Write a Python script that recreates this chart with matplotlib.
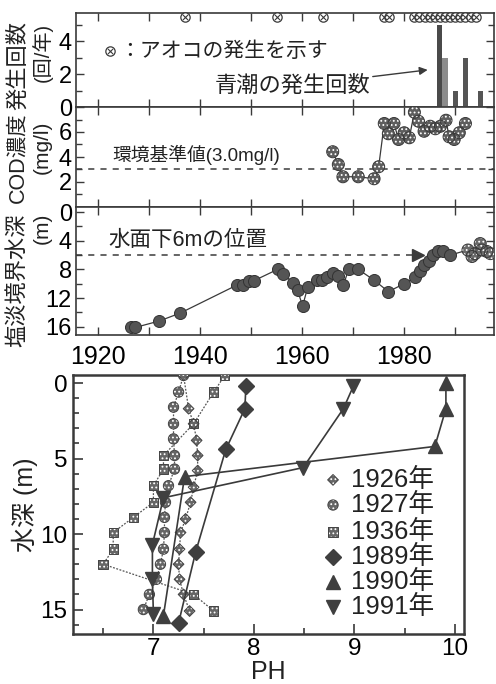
import matplotlib
matplotlib.use('Agg')
import matplotlib.pyplot as plt
from matplotlib.ticker import MultipleLocator, FuncFormatter

plt.rcParams['font.family'] = ['Liberation Sans', 'Noto Sans CJK JP']
plt.rcParams['hatch.color'] = 'white'
plt.rcParams['hatch.linewidth'] = 0.8

## アオコの発生年
aoko_years = [1937, 1955, 1964, 1976, 1977, 1982, 1983, 1984, 1985, 1986, 1987,
              1988, 1989, 1990, 1991, 1992, 1993, 1994]
aoko_level = 5.45

## 青潮の発生回数
aoshio_years = [1987, 1988, 1990, 1992, 1995]
aoshio_counts = [5, 3, 1, 3, 1]

## COD濃度 (mg/l)
cod_years = [1966.0, 1967.1, 1968.0, 1971.0, 1974.1, 1975.0, 1976.1, 1976.9, 1978.0,
             1978.9, 1980.0, 1981.0, 1982.0, 1982.8, 1983.9, 1985.1, 1986.1, 1987.1,
             1988.2, 1988.8, 1989.8, 1990.8, 1992.0]
cod_vals = [4.42, 3.4, 2.42, 2.42, 2.26, 3.22, 6.68, 5.86, 6.68, 5.4, 5.94, 5.54,
            7.58, 6.86, 6.06, 6.46, 6.26, 6.46, 6.94, 5.62, 5.4, 5.94, 6.68]
cod_standard = 3.0

## 塩淡境界水深 (m)
bd_years = [1926.4, 1927.3, 1932.0, 1936.1, 1947.2, 1948.4, 1949.5, 1950.5, 1955.2,
            1956.2, 1958.3, 1959.1, 1960.1, 1961.1, 1962.9, 1963.9, 1964.8, 1966.1,
            1967.1, 1968.1, 1969.1, 1971.0, 1974.1, 1976.9, 1980.0, 1982.2, 1983.1,
            1983.8, 1984.8, 1985.7, 1986.7, 1987.7, 1989.0]
bd_depth = [16.1, 16.1, 15.2, 14.1, 10.2, 10.2, 9.6, 9.6, 8.0, 8.6, 9.9, 10.9, 13.1,
            10.5, 9.5, 9.5, 9.0, 8.5, 8.9, 10.2, 8.0, 8.0, 9.5, 11.1, 10.0, 9.1, 8.2,
            7.4, 6.9, 6.0, 5.5, 5.5, 6.0]
bd_recent_years = [1992.5, 1993.3, 1993.9, 1994.9, 1995.2, 1996.2, 1996.9]
bd_recent_depth = [5.3, 6.2, 5.8, 4.4, 5.3, 5.5, 5.8]
ref_depth = 6.0
ref_arrow_year = 1982.8

## 水深ごとのPH
ph1926_depth = [-0.5, 1.7, 2.7, 3.8, 4.8, 5.8, 6.9, 7.9, 9.0, 9.9, 11.0, 12.0, 13.0, 14.0, 15.1]
ph1926 = [7.30, 7.35, 7.40, 7.43, 7.44, 7.44, 7.40, 7.37, 7.32, 7.27, 7.26, 7.25, 7.26, 7.30, 7.36]
ph1927_depth = [-0.5, 0.6, 1.6, 2.7, 3.7, 4.8, 5.7, 6.8, 7.9, 8.9, 9.9, 11.0, 12.0, 13.0, 14.0, 15.0]
ph1927 = [7.30, 7.25, 7.20, 7.20, 7.20, 7.21, 7.21, 7.15, 7.12, 7.11, 7.11, 7.10, 7.07, 7.03, 6.96, 6.90]
ph1936_depth = [-0.5, 0.6, 2.7, 4.8, 5.7, 6.8, 7.9, 8.9, 9.9, 11.0, 12.0, 14.0, 15.1]
ph1936 = [7.71, 7.60, 7.40, 7.10, 7.10, 7.00, 7.00, 6.80, 6.60, 6.60, 6.50, 7.40, 7.60]
ph1989_depth = [0.2, 1.7, 4.4, 11.2, 15.9]
ph1989 = [7.92, 7.91, 7.72, 7.42, 7.25]
ph1990_depth = [0.0, 1.7, 4.2, 6.2, 15.4]
ph1990 = [9.91, 9.91, 9.80, 7.31, 7.10]
ph1991_depth = [0.2, 1.7, 5.6, 7.6, 10.7, 13.0, 15.3]
ph1991 = [8.99, 8.89, 8.49, 7.10, 6.99, 6.99, 7.00]

W, H = 496, 684
DARK = '#3a3a3a'

fig = plt.figure(figsize=(W / 100, H / 100), dpi=100)


def px_axes(l, t, r, b):
    return fig.add_axes([l / W, 1 - b / H, (r - l) / W, (b - t) / H])


def style_time_axis(ax):
    ax.set_xlim(1915.7, 1997.6)
    ax.xaxis.set_major_locator(MultipleLocator(20))
    ax.xaxis.set_minor_locator(MultipleLocator(10))
    ax.tick_params(which='both', direction='in', top=True, right=True,
                   labelsize=17, width=1, color=DARK)
    ax.tick_params(which='both', length=6)
    ax.tick_params(axis='y', which='minor', length=4)
    ax.tick_params(axis='x', labelbottom=False, pad=7)
    ax.tick_params(axis='y', pad=3)
    for s in ax.spines.values():
        s.set_linewidth(1.2)
        s.set_color(DARK)


def only_labels(values):
    # label just the listed tick values, leave the rest blank
    return FuncFormatter(lambda v, pos: f'{v:g}' if any(abs(v - t) < 1e-6 for t in values) else '')


def dithered(ax, x, y, marker, size, face, edge=DARK, transform=None):
    tr = transform if transform is not None else ax.transData
    ax.scatter(x, y, s=size, marker=marker, facecolor=face, edgecolor='none',
               hatch='....', zorder=4, transform=tr)
    ax.scatter(x, y, s=size, marker=marker, facecolor='none', edgecolor=edge,
               linewidths=0.7, zorder=5, transform=tr)


## 発生回数
ax1 = px_axes(76, 13, 494, 107)
style_time_axis(ax1)
ax1.set_ylim(0, 5.7)
ax1.yaxis.set_major_locator(MultipleLocator(2))
ax1.yaxis.set_minor_locator(MultipleLocator(1))
bar_colors = ['#4a4a4a', '#8c8c8c', '#555555', '#555555', '#555555']
ax1.bar(aoshio_years, aoshio_counts, width=1.0, color=bar_colors, edgecolor='none', zorder=3)
ax1.scatter(aoko_years, [aoko_level] * len(aoko_years), s=45, marker='o',
            facecolor='white', edgecolor=DARK, linewidths=0.9, zorder=5, clip_on=False)
ax1.scatter(aoko_years, [aoko_level] * len(aoko_years), s=14, marker='x',
            color=DARK, linewidths=0.8, zorder=6, clip_on=False)
ax1.scatter([1922.4], [3.4], s=45, marker='o', facecolor='white', edgecolor=DARK,
            linewidths=0.9, zorder=5)
ax1.scatter([1922.4], [3.4], s=14, marker='x', color=DARK, linewidths=0.8, zorder=6)
ax1.text(1924.2, 3.4, '：アオコの発生を示す', fontsize=15, va='center', ha='left', color='#222')
ax1.annotate('青潮の発生回数', xy=(1984.6, 2.25), xytext=(1973.3, 1.25),
             fontsize=16, ha='right', va='center', color='#222',
             arrowprops=dict(arrowstyle='-|>', color=DARK, lw=1.0,
                             mutation_scale=12, shrinkA=0, shrinkB=0))

## COD濃度
ax2 = px_axes(76, 107, 494, 207)
style_time_axis(ax2)
ax2.set_ylim(0, 8)
ax2.yaxis.set_major_locator(MultipleLocator(2))
ax2.yaxis.set_minor_locator(MultipleLocator(1))
ax2.yaxis.set_major_formatter(only_labels([2, 4, 6]))
ax2.axhline(cod_standard, color=DARK, lw=1.1, ls=(0, (4, 4)), zorder=1)
ax2.plot(cod_years, cod_vals, color=DARK, lw=0.9, zorder=3)
dithered(ax2, cod_years, cod_vals, 'o', 75, '#5e5e5e')
ax2.text(1922.9, 4.2, '環境基準値(3.0mg/l)', fontsize=13.5, va='center', ha='left', color='#222')

## 塩淡境界水深
ax3 = px_axes(76, 207, 494, 335)
style_time_axis(ax3)
ax3.set_ylim(17.15, -0.7)
ax3.yaxis.set_major_locator(MultipleLocator(4))
ax3.yaxis.set_minor_locator(MultipleLocator(2))
ax3.tick_params(axis='x', labelbottom=True, labelsize=18)
ax3.plot([ax3.get_xlim()[0], ref_arrow_year], [ref_depth, ref_depth], color=DARK,
         lw=1.1, ls=(0, (4, 4)), zorder=1)
ax3.plot([ref_arrow_year], [ref_depth], marker='>', ms=8, color=DARK, zorder=3)
ax3.plot(bd_years + bd_recent_years, bd_depth + bd_recent_depth, color=DARK, lw=0.9, zorder=3)
ax3.scatter(bd_years, bd_depth, s=75, marker='o', facecolor='#555555',
            edgecolor='#333333', linewidths=0.7, zorder=4)
dithered(ax3, bd_recent_years, bd_recent_depth, 'o', 75, '#6a6a6a')
ax3.text(1922.0, 3.9, '水面下6mの位置', fontsize=15.5, va='center', ha='left', color='#222')

## 左側の軸ラベル
fig.text(18 / W, 1 - 66 / H, '発生回数', rotation=90, fontsize=16, ha='center', va='center', color='#222')
fig.text(18 / W, 1 - 158 / H, 'COD濃度', rotation=90, fontsize=15.5, ha='center', va='center', color='#222')
fig.text(18 / W, 1 - 280 / H, '塩淡境界水深', rotation=90, fontsize=16, ha='center', va='center', color='#222')
fig.text(42 / W, 1 - 52 / H, '(回/年)', rotation=90, fontsize=14.5, ha='center', va='center', color='#222')
fig.text(42 / W, 1 - 147 / H, '(mg/l)', rotation=90, fontsize=15, ha='center', va='center', color='#222')
fig.text(42 / W, 1 - 228 / H, '(m)', rotation=90, fontsize=15, ha='center', va='center', color='#222')

## PH の鉛直分布
ax4 = px_axes(73, 375, 464, 634)
ax4.set_xlim(6.2, 10.09)
ax4.set_ylim(16.62, -0.53)
ax4.xaxis.set_major_locator(MultipleLocator(1))
ax4.xaxis.set_minor_locator(MultipleLocator(0.5))
ax4.yaxis.set_major_locator(MultipleLocator(5))
ax4.yaxis.set_minor_locator(MultipleLocator(1))
ax4.tick_params(which='both', direction='in', labelsize=17.5, color=DARK, width=1.2)
ax4.tick_params(which='major', length=7)
ax4.tick_params(which='minor', length=4)
ax4.tick_params(axis='x', pad=3)
ax4.tick_params(axis='y', pad=4)
for s in ax4.spines.values():
    s.set_linewidth(1.8)
    s.set_color(DARK)
ax4.set_xlabel('PH', fontsize=18, labelpad=0, color='#222')
ax4.set_ylabel('水深 (m)', fontsize=18, labelpad=2, color='#222')

old_series = [
    ('1926年', ph1926, ph1926_depth, 'D', 30),
    ('1927年', ph1927, ph1927_depth, 'o', 55),
    ('1936年', ph1936, ph1936_depth, 's', 45),
]
for label, ph, depth, marker, size in old_series:
    ax4.plot(ph, depth, color='#555555', lw=0.9, ls=(0, (1.5, 1.2)), zorder=2)
    dithered(ax4, ph, depth, marker, size, '#666666', edge='#444444')

new_series = [
    ('1989年', ph1989, ph1989_depth, 'D', 8.5),
    ('1990年', ph1990, ph1990_depth, '^', 10),
    ('1991年', ph1991, ph1991_depth, 'v', 10),
]
for label, ph, depth, marker, ms in new_series:
    ax4.plot(ph, depth, color=DARK, lw=1.2, marker=marker, ms=ms, mfc='#3f3f3f',
             mec='#3f3f3f', zorder=6)

## 凡例
legend_rows = [0.595, 0.498, 0.394, 0.297, 0.201, 0.104]
for row, (label, ph, depth, marker, size) in zip(legend_rows[:3], old_series):
    dithered(ax4, [0.665], [row], marker, size, '#666666', edge='#444444',
             transform=ax4.transAxes)
    ax4.text(0.712, row, label, transform=ax4.transAxes, fontsize=18.5, va='center',
             ha='left', color='#222')
for row, (label, ph, depth, marker, ms) in zip(legend_rows[3:], new_series):
    ax4.plot([0.665], [row], marker=marker, ms=ms * 0.95, color='#3f3f3f',
             transform=ax4.transAxes, zorder=6)
    ax4.text(0.712, row, label, transform=ax4.transAxes, fontsize=18.5, va='center',
             ha='left', color='#222')

fig.savefig('out.png', dpi=100)
